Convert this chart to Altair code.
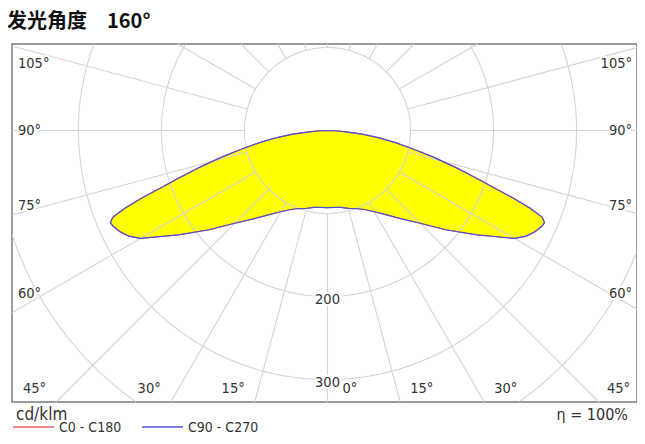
import math
import altair as alt
import pandas as pd
import numpy as np

# ---------------- data ----------------
title_text = "发光角度\u2002\u2002160°"
gamma_deg = [0, 5, 10, 15, 20, 25, 30, 35, 40, 45, 50, 55, 60, 62, 64, 66, 67, 68,
             69, 70, 71, 72, 74, 76, 78, 80, 82, 84, 86, 88, 90]
c0_c180 = [93, 93, 94, 97, 100, 105, 113, 124, 139, 158, 186, 219, 260, 271, 278, 283, 284, 279,
           262, 238, 212, 193, 160, 130, 103, 82, 62, 42, 20, 9, 0]
c90_c270 = [93, 93, 94, 97, 100, 105, 113, 124, 139, 158, 186, 219, 260, 271, 278, 283, 284, 279,
            262, 238, 212, 193, 160, 130, 103, 82, 62, 42, 20, 9, 0]
ring_values = [100, 200, 300, 400, 500]
ring_label_values = [200, 300]
angle_ticks = [0, 15, 30, 45, 60, 75, 90, 105]
legend_items = ["C0 - C180", "C90 - C270"]
legend_colors = ["#e06060", "#5050d0"]
unit_label = "cd/klm"
efficiency_label = "η = 100%"

# ---------------- layout ----------------
W, H = 625, 358
X_DOM = [-380.0, 372.8]
Y_DOM = [-327.0, 104.2]
PX = W / (X_DOM[1] - X_DOM[0])  # pixels per cd/klm
FONT = "DejaVu Sans Condensed, Liberation Sans Narrow, DejaVu Sans"
GRID = "#d4d4d4"
TXT = "#333333"

xs = alt.Scale(domain=X_DOM, nice=False, zero=False)
ys = alt.Scale(domain=Y_DOM, nice=False, zero=False)

def X(f):
    return alt.X(f, type="quantitative", scale=xs, axis=None)

def Y(f):
    return alt.Y(f, type="quantitative", scale=ys, axis=None)

def inside(x, y):
    return X_DOM[0] <= x <= X_DOM[1] and Y_DOM[0] <= y <= Y_DOM[1]

# curve table (closed polygon: left half then right half)
rows = []
k = 0
for name, vals in (("C0 - C180", c0_c180), ("C90 - C270", c90_c270)):
    for g, v in reversed(list(zip(gamma_deg, vals))):
        rows.append(dict(series=name, g=g, I=v, side=-1, o=k)); k += 1
    for g, v in list(zip(gamma_deg, vals))[1:]:
        rows.append(dict(series=name, g=g, I=v, side=1, o=k)); k += 1
curve = pd.DataFrame(rows)

sub = curve[curve.series == "C90 - C270"]
poly = [[float(s * I * math.sin(math.radians(g))), float(-I * math.cos(math.radians(g)))]
        for s, I, g in zip(sub.side, sub.I, sub.g)]
poly.append(poly[0])
feature = {"type": "Feature", "properties": {}, "geometry": {"type": "Polygon", "coordinates": [poly]}}
fill = alt.Chart(alt.InlineData(values=[feature])).mark_geoshape(
    fill="#ffff00", stroke="#ffff00", strokeWidth=0.5
).project(type="identity", reflectY=True, scale=PX,
          translate=[-X_DOM[0] * PX, Y_DOM[1] * PX])

curve_base = alt.Chart(curve).transform_calculate(
    cx="datum.side * datum.I * sin(datum.g * PI / 180)",
    cy="-datum.I * cos(datum.g * PI / 180)",
)
outline_red = curve_base.transform_filter(alt.datum.series == "C0 - C180").mark_line(
    interpolate="linear-closed", stroke=legend_colors[0], strokeWidth=1.1
).encode(x=X("cx"), y=Y("cy"), order="o:Q")
outline_blue = curve_base.transform_filter(alt.datum.series == "C90 - C270").mark_line(
    interpolate="linear-closed", stroke=legend_colors[1], strokeWidth=1.2
).encode(x=X("cx"), y=Y("cy"), order="o:Q")

# grid rings, kept inside the frame (split into arcs where they leave it)
ring_rows = []
for r in ring_values:
    seg = 0
    prev_in = False
    for i in range(0, 1441):
        a = i * 0.25
        x = r * math.sin(math.radians(a))
        y = -r * math.cos(math.radians(a))
        ins = inside(x, y)
        if ins:
            if not prev_in:
                seg += 1
            ring_rows.append(dict(seg=f"{r}-{seg}", o=i, x=x, y=y))
        prev_in = ins
ring_df = pd.DataFrame(ring_rows)
rings = alt.Chart(ring_df).mark_line(stroke=GRID, strokeWidth=1.1).encode(
    x=X("x"), y=Y("y"), detail="seg:N", order="o:Q"
)

# radial grid lines every 15 degrees, from the first ring to the frame
rad_rows = []
for a in range(0, 360, 15):
    sx, sy = math.sin(math.radians(a)), -math.cos(math.radians(a))
    ts = []
    if sx > 1e-9: ts.append(X_DOM[1] / sx)
    if sx < -1e-9: ts.append(X_DOM[0] / sx)
    if sy > 1e-9: ts.append(Y_DOM[1] / sy)
    if sy < -1e-9: ts.append(Y_DOM[0] / sy)
    t1 = min(ts)
    r0 = ring_values[0]
    rad_rows.append(dict(x0=r0 * sx, y0=r0 * sy, x1=t1 * sx, y1=t1 * sy))
rad_df = pd.DataFrame(rad_rows)
radials = alt.Chart(rad_df).mark_rule(stroke=GRID, strokeWidth=1.1).encode(
    x=X("x0"), y=Y("y0"), x2="x1:Q", y2="y1:Q"
)

# angle labels: placed where each ray meets the frame
lab_rows = []
y_bottom_ray = Y_DOM[0]
y_bottom_lab = Y_DOM[0] + 13 / PX
x_side_left = X_DOM[0] + 6 / PX
x_side_right = X_DOM[1] - 5 / PX
x_side_ray = 283 / PX
y_top_clamp = Y_DOM[1] - 20 / PX
for a in angle_ticks:
    t = math.radians(a)
    if a == 0:
        lab_rows.append(dict(t=f"{a}°", x=15 / PX, y=y_bottom_lab, al="left"))
    elif a <= 45:
        xr = -y_bottom_ray * math.tan(t)
        lab_rows.append(dict(t=f"{a}°", x=-xr - 10 / PX, y=y_bottom_lab, al="right"))
        lab_rows.append(dict(t=f"{a}°", x=min(xr + 10 / PX, X_DOM[1] - 30 / PX), y=y_bottom_lab, al="left"))
    else:
        yy = -x_side_ray * math.cos(t) / math.sin(t)
        yy = min(yy, y_top_clamp)
        lab_rows.append(dict(t=f"{a}°", x=x_side_left, y=yy, al="left"))
        lab_rows.append(dict(t=f"{a}°", x=x_side_right, y=yy, al="right"))
for v in ring_label_values:
    lab_rows.append(dict(t=str(v), x=0.0, y=-float(v) - 3 / PX, al="center"))
labels = pd.DataFrame(lab_rows)

label_layers = []
for al in ("left", "right", "center"):
    d = labels[labels.al == al]
    base = alt.Chart(d).encode(x=X("x"), y=Y("y"), text="t:N")
    label_layers.append(base.mark_text(align=al, baseline="middle", font=FONT, fontSize=14.5,
                                       stroke="white", strokeWidth=4, fill="white"))
    label_layers.append(base.mark_text(align=al, baseline="middle", font=FONT, fontSize=14.5,
                                       fill=TXT))

# title, unit, legend, efficiency (outside the frame)
def free_text(txt, x, y, **kw):
    return alt.Chart(pd.DataFrame({"t": [txt]})).mark_text(**kw).encode(
        text="t:N", x=alt.value(x), y=alt.value(y))

title = free_text(title_text, -5, -16, align="left", baseline="alphabetic",
                  font="Noto Sans CJK SC", fontSize=20, fontWeight="bold", fill="#111111")
unit = free_text(unit_label, 4, 376, align="left", baseline="alphabetic",
                 font=FONT, fontSize=17, fill=TXT)
eff = free_text(efficiency_label, 616, 376, align="right", baseline="alphabetic",
                font=FONT, fontSize=16, fill=TXT)

leg_layers = []
leg_x = [1, 130]
for name, col, lx in zip(legend_items, legend_colors, leg_x):
    leg_layers.append(
        alt.Chart(pd.DataFrame({"t": [name]})).mark_rule(stroke=col, strokeWidth=1.3).encode(
            x=alt.value(lx), x2=alt.value(lx + 41), y=alt.value(383))
    )
    leg_layers.append(free_text(name, lx + 46, 388, align="left", baseline="alphabetic",
                                font=FONT, fontSize=14, fill=TXT))

chart = alt.layer(
    fill, rings, radials, outline_red, outline_blue, *label_layers,
    title, unit, eff, *leg_layers
).properties(
    width=W, height=H,
    autosize=alt.AutoSizeParams(type="none"),
    padding={"left": 4, "top": 36, "right": 0, "bottom": 34},
    background="white",
).configure_view(stroke="#7a7a7a", strokeWidth=1.5)

chart.save("out.html", embed_options={"renderer": "svg", "actions": False})
